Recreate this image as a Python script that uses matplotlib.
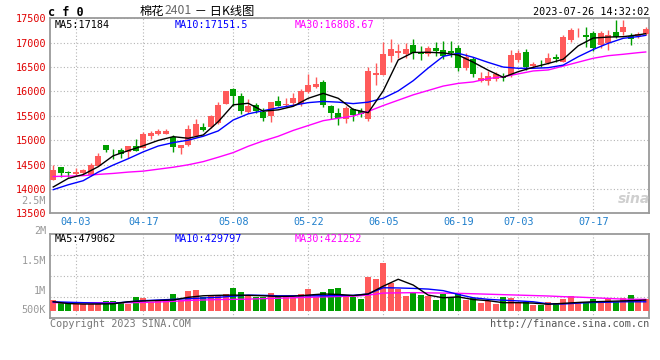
import matplotlib
matplotlib.use("Agg")
import matplotlib.pyplot as plt

# ---- daily candles (index 0 = first candle on the left) --------------------------------
opens = [14182, 14444, 14354, 14300, 14321, 14280, 14477, 14898, 14800, 14790,
         14750, 14881, 14840, 15095, 15133, 15133, 15072, 14835, 14900, 15090,
         15265, 15270, 15360, 15742, 16055, 15905, 15585, 15720, 15585, 15490,
         15810, 15720, 15755, 15735, 15995, 16100, 16195, 15700, 15560, 15430,
         15640, 15600, 15430, 16335, 16335, 16725, 16790, 16765, 16950, 16775,
         16765, 16900, 16850, 16830, 16885, 16490, 16665, 16220, 16220, 16255,
         16300, 16337, 16645, 16815, 16520, 16610, 16590, 16712, 16598, 17055,
         17250, 17157, 17192, 16952, 16987, 17225, 17213, 17143, 17137, 17172]
highs = [14491, 14450, 14374, 14420, 14409, 14526, 14731, 14900, 14810, 14840,
         14885, 15020, 15175, 15188, 15223, 15223, 15106, 14905, 15320, 15430,
         15355, 15520, 15790, 16015, 16060, 15960, 15840, 15760, 15650, 15790,
         15910, 15870, 15975, 16050, 16360, 16300, 16225, 15720, 15654, 15700,
         15660, 15654, 16500, 16580, 17020, 17080, 16970, 16990, 17075, 16940,
         16940, 17020, 17040, 17035, 16950, 16780, 16710, 16400, 16420, 16400,
         16370, 16850, 16850, 16860, 16610, 16650, 16780, 16762, 17157, 17295,
         17307, 17328, 17240, 17240, 17260, 17465, 17465, 17192, 17225, 17328]
lows = [14182, 14239, 14251, 14260, 14310, 14270, 14470, 14748, 14620, 14640,
        14635, 14770, 14830, 15025, 15100, 15120, 14764, 14715, 14890, 15070,
        15190, 15250, 15330, 15742, 15708, 15540, 15550, 15555, 15395, 15380,
        15700, 15690, 15710, 15710, 15975, 16065, 15690, 15430, 15312, 15360,
        15390, 15470, 15400, 16130, 16330, 16600, 16680, 16690, 16660, 16640,
        16730, 16720, 16660, 16712, 16420, 16440, 16300, 16200, 16130, 16210,
        16210, 16300, 16610, 16440, 16475, 16510, 16560, 16610, 16598, 17020,
        17123, 16918, 16830, 16885, 16850, 17090, 17157, 16952, 17090, 17150]
closes = [14387, 14321, 14321, 14350, 14389, 14500, 14680, 14799, 14790, 14720,
          14881, 14780, 15135, 15154, 15182, 15195, 14854, 14895, 15225, 15330,
          15210, 15490, 15720, 16012, 15912, 15600, 15700, 15605, 15450, 15775,
          15708, 15750, 15870, 16010, 16130, 16150, 15720, 15565, 15450, 15660,
          15520, 15540, 16420, 16370, 16770, 16870, 16830, 16870, 16795, 16765,
          16885, 16820, 16730, 16790, 16490, 16700, 16350, 16280, 16325, 16350,
          16285, 16740, 16780, 16510, 16555, 16595, 16690, 16665, 17123, 17260,
          17260, 17110, 16885, 17192, 17157, 17123, 17315, 17075, 17172, 17280]
# volume in millions of lots
volume = [0.48, 0.40, 0.33, 0.30, 0.30, 0.30, 0.30, 0.43, 0.43, 0.33,
          0.30, 0.61, 0.55, 0.40, 0.48, 0.48, 0.73, 0.48, 0.90, 0.93,
          0.60, 0.67, 0.67, 0.75, 1.02, 0.84, 0.70, 0.60, 0.60, 0.78,
          0.63, 0.60, 0.60, 0.75, 0.97, 0.63, 0.84, 0.97, 1.02, 0.66,
          0.63, 0.52, 1.51, 1.42, 2.15, 1.23, 0.97, 0.66, 0.78, 0.70,
          0.66, 0.48, 0.73, 0.61, 0.73, 0.48, 0.58, 0.36, 0.45, 0.30,
          0.63, 0.55, 0.33, 0.39, 0.26, 0.26, 0.40, 0.33, 0.54, 0.66,
          0.40, 0.33, 0.51, 0.40, 0.55, 0.39, 0.58, 0.70, 0.54, 0.52]

# ---- moving-average lines, read at every second candle (plus the last) ---------------
ma_idx = [0, 2, 4, 6, 8, 10, 12, 14, 16, 18, 20, 22, 24, 26, 28, 30, 32, 34, 36, 38,
          40, 42, 44, 46, 48, 50, 52, 54, 56, 58, 60, 62, 64, 66, 68, 70, 72, 74, 76, 78, 79]
ma5 = [14040, 14216, 14295, 14456, 14680, 14785, 14885, 14995, 15072, 15039,
       15107, 15379, 15725, 15757, 15595, 15622, 15695, 15859, 15960, 15859,
       15630, 15564, 16010, 16645, 16800, 16803, 16790, 16745, 16600, 16435,
       16290, 16405, 16495, 16573, 16660, 16935, 17095, 17115, 17123, 17160, 17184]
ma10 = [13985, 14085, 14169, 14345, 14490, 14620, 14760, 14880, 14950, 15000,
        15080, 15190, 15414, 15540, 15605, 15665, 15715, 15770, 15795, 15780,
        15750, 15780, 15860, 16010, 16220, 16480, 16720, 16782, 16700, 16595,
        16500, 16475, 16475, 16487, 16540, 16712, 16860, 16987, 17090, 17125, 17150]
ma30 = [14255, 14262, 14272, 14298, 14318, 14345, 14365, 14405, 14445, 14495,
        14560, 14650, 14745, 14875, 14985, 15080, 15200, 15300, 15400, 15450,
        15495, 15590, 15710, 15820, 15930, 16020, 16110, 16165, 16195, 16265,
        16300, 16360, 16420, 16440, 16520, 16600, 16680, 16733, 16762, 16795, 16809]
vma5 = [0.40, 0.32, 0.30, 0.30, 0.31, 0.40, 0.44, 0.46, 0.48, 0.60,
        0.67, 0.69, 0.70, 0.69, 0.67, 0.64, 0.65, 0.70, 0.75, 0.73,
        0.68, 0.75, 1.10, 1.41, 1.15, 0.70, 0.58, 0.62, 0.50, 0.45,
        0.36, 0.36, 0.34, 0.29, 0.33, 0.37, 0.40, 0.42, 0.44, 0.46, 0.48]
vma10 = [0.40, 0.38, 0.36, 0.34, 0.33, 0.40, 0.45, 0.48, 0.51, 0.54,
         0.57, 0.60, 0.65, 0.70, 0.69, 0.67, 0.67, 0.67, 0.67, 0.68,
         0.69, 0.75, 1.03, 1.02, 1.00, 0.97, 0.90, 0.73, 0.58, 0.51,
         0.47, 0.44, 0.40, 0.31, 0.30, 0.34, 0.37, 0.38, 0.40, 0.40, 0.40]
vma30 = [0.36, 0.36, 0.36, 0.36, 0.36, 0.36, 0.37, 0.39, 0.42, 0.46,
         0.48, 0.50, 0.51, 0.52, 0.54, 0.56, 0.58, 0.60, 0.62, 0.64,
         0.65, 0.70, 0.79, 0.80, 0.81, 0.80, 0.79, 0.78, 0.76, 0.74,
         0.72, 0.70, 0.68, 0.66, 0.63, 0.61, 0.58, 0.55, 0.52, 0.51, 0.51]

date_labels = ["04-03", "04-17", "05-08", "05-22", "06-05", "06-19", "07-03", "07-17"]
date_pos = [3, 12, 24, 34, 44, 54, 62, 72]
price_ticks = [13500, 14000, 14500, 15000, 15500, 16000, 16500, 17000, 17500]
vol_labels = ["2M", "1.5M", "1M", "500K"]

# ---- style -----------------------------------------------------------------------------
RED, GREEN = "#ff5a5a", "#009e00"
GRID, FRAME = "#b4b4b4", "#9a9a9a"
MONO = "DejaVu Sans Mono"
CJK = ["Noto Sans CJK SC", "DejaVu Sans"]
W, H = 660, 360

def fx(px): return px / W
def fy(py): return 1 - py / H

fig = plt.figure(figsize=(6.6, 3.6), dpi=100)
fig.patch.set_facecolor("white")
axP = fig.add_axes([fx(50.3), fy(213.3), fx(599), 195 / H])
axV = fig.add_axes([fx(50.3), fy(318), fx(599), 83.7 / H])

n = len(closes)
idx = list(range(n))
cols = [RED if c >= o else GREEN for o, c in zip(opens, closes)]

# candles
axP.vlines(idx, lows, highs, colors=cols, lw=1, zorder=3)
bodies = [max(abs(c - o), 18) for o, c in zip(opens, closes)]
bottoms = [min(o, c) for o, c in zip(opens, closes)]
axP.bar(idx, bodies, bottom=bottoms, width=0.76, color=cols, lw=0, zorder=4)
axP.plot(ma_idx, ma30, color="#ff00ff", lw=1, zorder=5)
axP.plot(ma_idx, ma10, color="#0000ff", lw=1, zorder=5)
axP.plot(ma_idx, ma5, color="black", lw=1, zorder=5)

# volume
axV.bar(idx, volume, width=0.8, color=cols, lw=0, zorder=3)
axV.plot(ma_idx, vma30, color="#ff00ff", lw=1, zorder=5)
axV.plot(ma_idx, vma10, color="#0000ff", lw=1, zorder=5)
axV.plot(ma_idx, vma5, color="black", lw=1, zorder=5)

xlim = (-0.39, 79.48)
for ax in (axP, axV):
    ax.set_xlim(*xlim)
    ax.set_xticks(date_pos)
    ax.tick_params(length=0)
    ax.grid(True, color=GRID, ls=(0, (1, 2)), lw=0.8, zorder=0)
    ax.set_axisbelow(True)
    for s in ax.spines.values():
        s.set_color(FRAME)
        s.set_linewidth(1.3)

axP.set_ylim(13500, 17500)
axP.set_yticks(price_ticks)
axP.set_yticklabels([str(p) for p in price_ticks], color="#e00000", family=MONO, fontsize=7.3)
axP.set_xticklabels(date_labels, color="#1f7fcc", family=MONO, fontsize=7.3)
axP.tick_params(axis="x", pad=2.5)
axP.tick_params(axis="y", pad=3)

vlo, vhi = -0.327, 3.426
axV.set_ylim(vlo, vhi)
axV.set_yticks([vlo + (vhi - vlo) * k / 4 for k in (1, 2, 3)])
axV.set_yticklabels([])
axV.set_xticklabels([])

# axis labels of the volume pane sit where the original draws them
for lab, py in zip(vol_labels, [230.7, 261, 290.7, 310]):
    fig.text(fx(46), fy(py), lab, ha="right", va="center", color="#999999",
             family=MONO, fontsize=7.3)
fig.text(fx(46), fy(201), "2.5M", ha="right", va="center", color="#999999",
         family=MONO, fontsize=7.3)

# MA legends
def legend_row(py, items):
    for txt, c, px in items:
        fig.text(fx(px), fy(py), txt, ha="left", va="center", color=c,
                 family=MONO, fontsize=7.3)

legend_row(24.5, [("MA5:17184", "black", 54.5), ("MA10:17151.5", "#0000ff", 174.5),
                  ("MA30:16808.67", "#ff00ff", 294.8)])
legend_row(238.5, [("MA5:479062", "black", 54.5), ("MA10:429797", "#0000ff", 174.5),
                   ("MA30:421252", "#ff00ff", 294.8)])

# header: title pieces chained left to right so the contract number can be grey
fig.text(fx(48.5), fy(12), "c f 0", ha="left", va="center", family=MONO,
         fontweight="bold", fontsize=8.5, color="black")
renderer = fig.canvas.get_renderer()
xpos = 140
for piece, c in [("棉花", "black"), ("2401", "#666666"), (" － 日K线图", "black")]:
    t = fig.text(fx(xpos), fy(11), piece, ha="left", va="center", family=CJK,
                 fontsize=8.8, color=c)
    xpos += t.get_window_extent(renderer).width
fig.text(fx(649), fy(12), "2023-07-26 14:32:02", ha="right", va="center",
         family=MONO, fontsize=7.3, color="black")

# footer + watermark
fig.text(fx(50), fy(324), "Copyright 2023 SINA.COM", ha="left", va="center",
         family=MONO, fontsize=7.3, color="#777777")
fig.text(fx(649), fy(324), "http://finance.sina.com.cn", ha="right", va="center",
         family=MONO, fontsize=7.3, color="#555555")
fig.text(fx(634), fy(199), "sina", ha="center", va="center", fontsize=10,
         fontweight="bold", style="italic", color="#cfcfcf")

fig.savefig("out.png", dpi=100, facecolor="white")
